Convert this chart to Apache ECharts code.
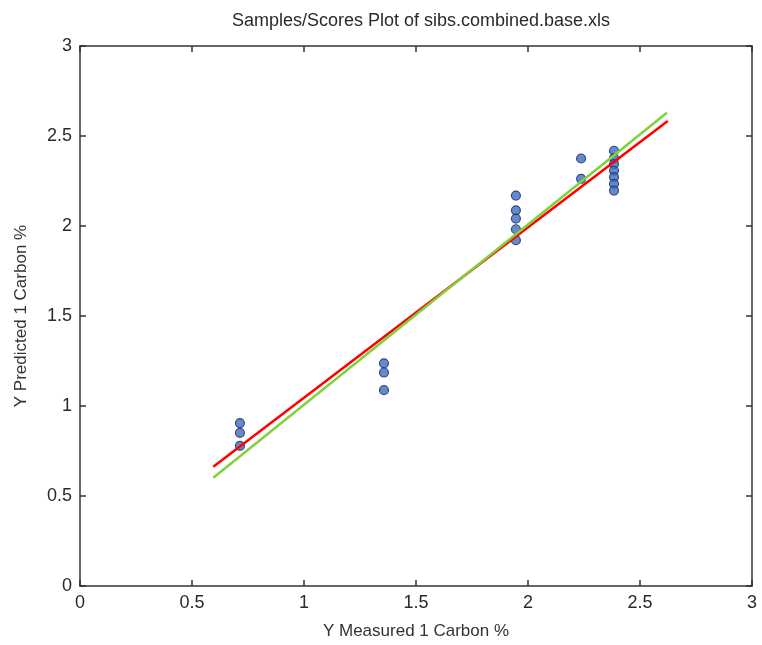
<!DOCTYPE html>
<html><head><meta charset="utf-8">
<script src="https://cdn.jsdelivr.net/npm/echarts@6/dist/echarts.min.js"></script>
<style>html,body{margin:0;padding:0;background:#fff}#c{width:762px;height:645px}</style>
</head><body><div id="c"></div>
<script>
const titleText = "Samples/Scores Plot of sibs.combined.base.xls";
const xName = "Y Measured 1 Carbon %";
const yName = "Y Predicted 1 Carbon %";
const measured = [0.714,0.714,0.714, 1.357,1.357,1.357, 1.946,1.946,1.946,1.946,1.946, 2.237,2.237, 2.384,2.384,2.384,2.384,2.384,2.384,2.384];
const predicted = [0.905,0.851,0.779, 1.237,1.186,1.088, 2.169,2.087,2.041,1.982,1.921, 2.375,2.262, 2.418,2.377,2.344,2.307,2.271,2.234,2.197];
const fitX = [0.595, 2.624];
const fitY = [0.662, 2.583];
const idealX = [0.595, 2.62];
const idealY = [0.601, 2.629];

const pts = measured.map((v,i)=>[v,predicted[i]]);
const fit = fitX.map((v,i)=>[v,fitY[i]]);
const ideal = idealX.map((v,i)=>[v,idealY[i]]);
const font = "Liberation Sans, Arial, sans-serif";
const axCol = '#333';
function axis(pos, show, name){
  return {
    type:'value', position:pos, min:0, max:3, interval:0.5,
    name: show?name:'', nameLocation:'middle',
    nameGap: pos==='bottom'?37:50,
    nameTextStyle:{color:'#333', fontSize:17, fontFamily:font},
    axisLine:{show:true, onZero:false, lineStyle:{color:axCol, width:1.5}},
    axisTick:{show:true, inside:true, length:6, lineStyle:{color:axCol, width:1.5}},
    axisLabel:{show:show, color:'#2a2a2a', fontSize:18, fontFamily:font, margin:8,
      formatter:v=>String(Math.round(v*10)/10)},
    splitLine:{show:false}
  };
}
const chart = echarts.init(document.getElementById('c'), null, {renderer:'canvas'});
chart.setOption({
  animation:false,
  backgroundColor:'#fff',
  title:{text:titleText, left:416, textAlign:'center', top:7,
    textStyle:{fontSize:18, fontWeight:'normal', color:'#2a2a2a', fontFamily:font}},
  grid:{left:80, right:10, top:46, bottom:55},
  xAxis:[axis('bottom', true, xName), axis('top', false, '')],
  yAxis:[axis('left', true, yName), axis('right', false, '')],
  series:[
    {type:'scatter', data:pts, symbol:'circle', symbolSize:9,
      itemStyle:{color:'#3f6dbf', borderColor:'#1a2d66', borderWidth:1.2}, z:2},
    {type:'line', data:fit, showSymbol:false, lineStyle:{color:'#ff0000', width:2.5}, z:3},
    {type:'line', data:ideal, showSymbol:false, lineStyle:{color:'#7ed23a', width:2.5}, z:3}
  ]
});
</script></body></html>
